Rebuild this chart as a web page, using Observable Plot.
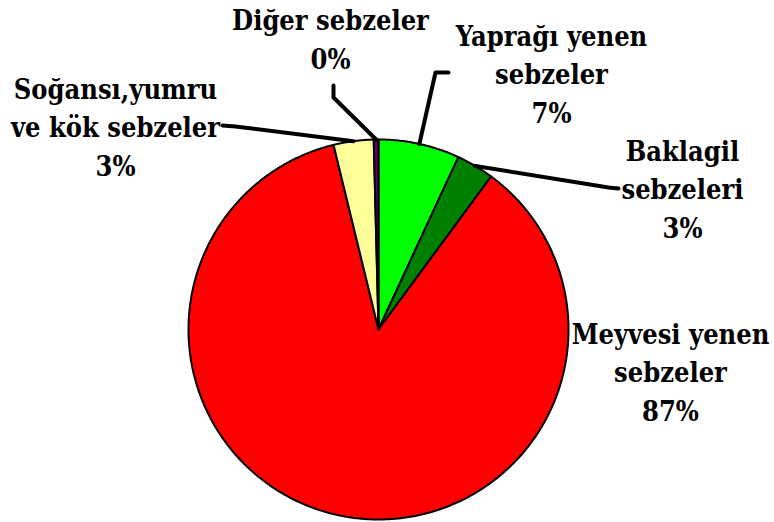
<!DOCTYPE html>
<html><head><meta charset="utf-8">
<script src="https://cdn.jsdelivr.net/npm/d3@7"></script>
<script src="https://cdn.jsdelivr.net/npm/@observablehq/plot@0.6"></script>
<style>html,body{margin:0;padding:0;background:#fff;} svg text{font-family:"DejaVu Serif Condensed","DejaVu Serif",serif !important; font-stretch:condensed;}</style>
</head><body><div id="chart"></div>
<script>
// ---- data ----
const categories = ["Yaprağı yenen sebzeler","Baklagil sebzeleri","Meyvesi yenen sebzeler","Soğansı,yumru ve kök sebzeler","Diğer sebzeler"];
const shares = [6.9, 3.2, 86.1, 3.4, 0.4];
const percentLabels = ["7%","3%","87%","3%","0%"];
const labelLines = [["Yaprağı yenen","sebzeler"],["Baklagil","sebzeleri"],["Meyvesi yenen","sebzeler"],["Soğansı,yumru","ve kök sebzeler"],["Diğer sebzeler"]];
const colors = ["#00FF00","#008000","#FF0000","#FFFF99","#660066"];

// ---- layout ----
const W = 774, H = 522, cx = 378, cy = 329, R = 190;
const labelAnchor = [[551,122],[682,237],[670,420],[115,175],[330,68]];
const leaderElbows = [[[448,72],[435,72]], [[618,188],[608,187]], null, [[222,125],[235,126]], [[333,85],[333,97]]];

const arcs = d3.pie().sort(null).startAngle(0).endAngle(2*Math.PI)(shares);
const pt = (a, r = R) => ({x: cx + r*Math.sin(a), y: cy - r*Math.cos(a)});
const wedges = arcs.flatMap((a, i) => {
  const n = Math.max(2, Math.ceil((a.endAngle - a.startAngle)/(Math.PI/360)));
  const pts = [{name: categories[i], ...pt(0, 0)}];
  for (let k = 0; k <= n; k++) pts.push({name: categories[i], ...pt(a.startAngle + (a.endAngle - a.startAngle)*k/n)});
  return pts;
});
const leaders = arcs.flatMap((a, i) => leaderElbows[i]
  ? [...leaderElbows[i].map(([x, y]) => ({name: categories[i], x, y})), {name: categories[i], ...pt((a.startAngle + a.endAngle)/2)}]
  : []);
const texts = categories.map((c, i) => ({name: c, text: [...labelLines[i], percentLabels[i]].join("\n"), x: labelAnchor[i][0], y: labelAnchor[i][1]}));

const chart = Plot.plot({
  width: W, height: H, margin: 0,
  x: {domain: [0, W], range: [0, W], axis: null},
  y: {domain: [0, H], range: [0, H], axis: null},
  color: {domain: categories, range: colors},
  style: {background: "#fff"},
  marks: [
    Plot.line(wedges, {x: "x", y: "y", z: "name", fill: "name", stroke: "black", strokeWidth: 2, curve: "linear-closed"}),
    Plot.line(leaders, {x: "x", y: "y", z: "name", stroke: "black", strokeWidth: 4, strokeLinecap: "round", strokeLinejoin: "round"}),
    Plot.text(texts, {x: "x", y: "y", text: "text", textAnchor: "middle", lineAnchor: "bottom", lineHeight: 1.426,
      fontSize: 27, fontWeight: "bold", fill: "black"})
  ]
});
document.getElementById("chart").append(chart);
</script>
</body></html>
